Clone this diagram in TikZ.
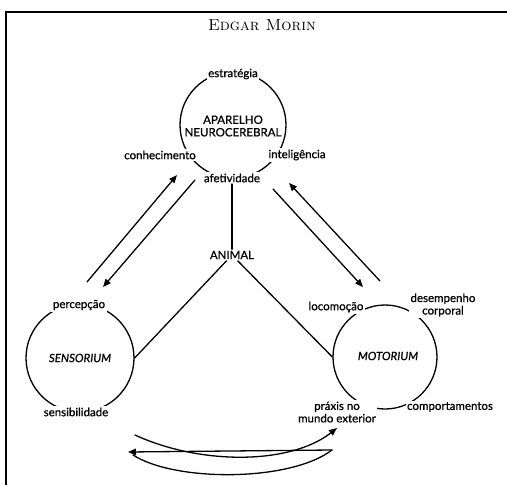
\documentclass[tikz,border=0pt]{standalone}
\usepackage{fontspec}
\newfontfamily\gillfont{Lato}[FakeBold=0.8]
\usetikzlibrary{calc,arrows.meta,positioning}
\tikzset{
  ring/.style={circle, draw=black, line width=1.3pt, inner sep=0pt},
  lbl/.style={fill=white, inner sep=1.5pt, align=center,
              font=\gillfont\fontsize{11.5}{12.5}\selectfont},
  core/.style={lbl, fill=none},
  tie/.style={line width=1.3pt, line cap=round},
  flow/.style={tie, -{Triangle[length=8pt, width=6.5pt]}},
}
\begin{document}
\begin{tikzpicture}[x=1pt, y=-1pt]
  \useasboundingbox (0,0) rectangle (507,485);
  \draw[line width=2.6pt] (6,485) -- (6,12) -- (507,12);
  \node[font=\fontsize{16}{18}\selectfont] (title) at (262,25) {\textsc{Edgar Morin}};
  % the three circles
  \node[ring, minimum size=106pt] (neuro) at (233,125) {};
  \node[ring, minimum size=108pt] (sens)  at (80,358)  {};
  \node[ring, minimum size=104pt] (mot)   at (385,357) {};
  \node[core] (neurotxt) at (233,126) {APARELHO\\NEUROCEREBRAL};
  \node[core] (senstxt)  at (80,358)  {\itshape SENSORIUM};
  \node[core] (mottxt)   at (388,356) {\itshape MOTORIUM};
  % labels on the circles
  \node[lbl] (estr)  at (233,74)  {estratégia};
  \node[lbl] (conh)  at (160,155) {conhecimento};
  \node[lbl] (intel) at (297,155) {inteligência};
  \node[lbl] (afet)  at (232,178) {afetividade};
  \node[lbl] (perc)  at (79,305)  {percepção};
  \node[lbl] (sensi) at (76,412)  {sensibilidade};
  \node[lbl] (loco)  at (336,307) {locomoção};
  \node[lbl] (desem) at (443,305) {desempenho\\corporal};
  \node[lbl] (praxis) at (337,412) {práxis no\\mundo exterior};
  \node[lbl] (comp)  at (450,407) {comportamentos};
  \node[core] (animal) at (232,255) {ANIMAL};
  % links to ANIMAL
  \draw[tie] (afet) -- (animal);
  \draw[tie] (animal) -- (sens.east);
  \draw[tie] (animal) -- (mot.west);
  % arrows between the circles
  \coordinate (sensUpA) at (87,282);  \coordinate (sensUpB) at (177,175);
  \coordinate (sensDnA) at (195,180); \coordinate (sensDnB) at (103,287);
  \coordinate (motDnA)  at (273,189); \coordinate (motDnB)  at (363,287);
  \coordinate (motUpA)  at (380,281); \coordinate (motUpB)  at (289,183);
  \draw[flow] (sensUpA) -- (sensUpB);
  \draw[flow] (sensDnA) -- (sensDnB);
  \draw[flow] (motDnA) -- (motDnB);
  \draw[flow] (motUpA) -- (motUpB);
  % loop below
  \coordinate (loopA) at (135,435); \coordinate (loopB) at (337,428);
  \coordinate (loopC) at (332,450); \coordinate (loopD) at (128,452);
  \draw[flow] (loopA) .. controls (200,465) and (290,465) .. (loopB);
  \draw[flow] (loopC) -- (loopD);
  \draw[tie] (loopC) .. controls (290,482) and (175,482) .. (133,455);
\end{tikzpicture}
\end{document}
